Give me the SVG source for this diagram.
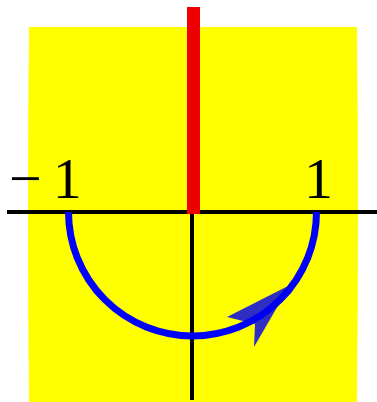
<svg xmlns="http://www.w3.org/2000/svg" width="377" height="402" viewBox="0 0 377 402">
<style>
.lbl{font-family:"Liberation Serif","DejaVu Serif",serif;font-size:58px;fill:#000}
.axis{stroke:#000;stroke-width:4;fill:none}
</style>
<rect x="0" y="0" width="377" height="402" fill="#fff"/>
<g id="region"><path d="M29,27 L357,27 Q359,215 357,402 L29,402 Q27,215 29,27 Z" fill="#ffff00"/></g>
<g id="connectors">
<line class="axis" x1="7" y1="212" x2="377" y2="212"/>
<line class="axis" x1="192" y1="212" x2="192" y2="400" stroke-width="3.5"/>
<rect x="187" y="7" width="13" height="207" fill="#ee0000"/>
<path d="M68.5,212 A124,124 0 0 0 316.5,212" fill="none" stroke="#0000ff" stroke-width="7"/>
<path d="M290,285 L227,317 L255,324 L254,347 Z" fill="#0000ee" fill-opacity="0.82"/>
</g>
<g id="labels">
<text class="lbl" x="9" y="198">−<tspan dx="11">1</tspan></text>
<text class="lbl" x="304" y="198">1</text>
</g>
</svg>
